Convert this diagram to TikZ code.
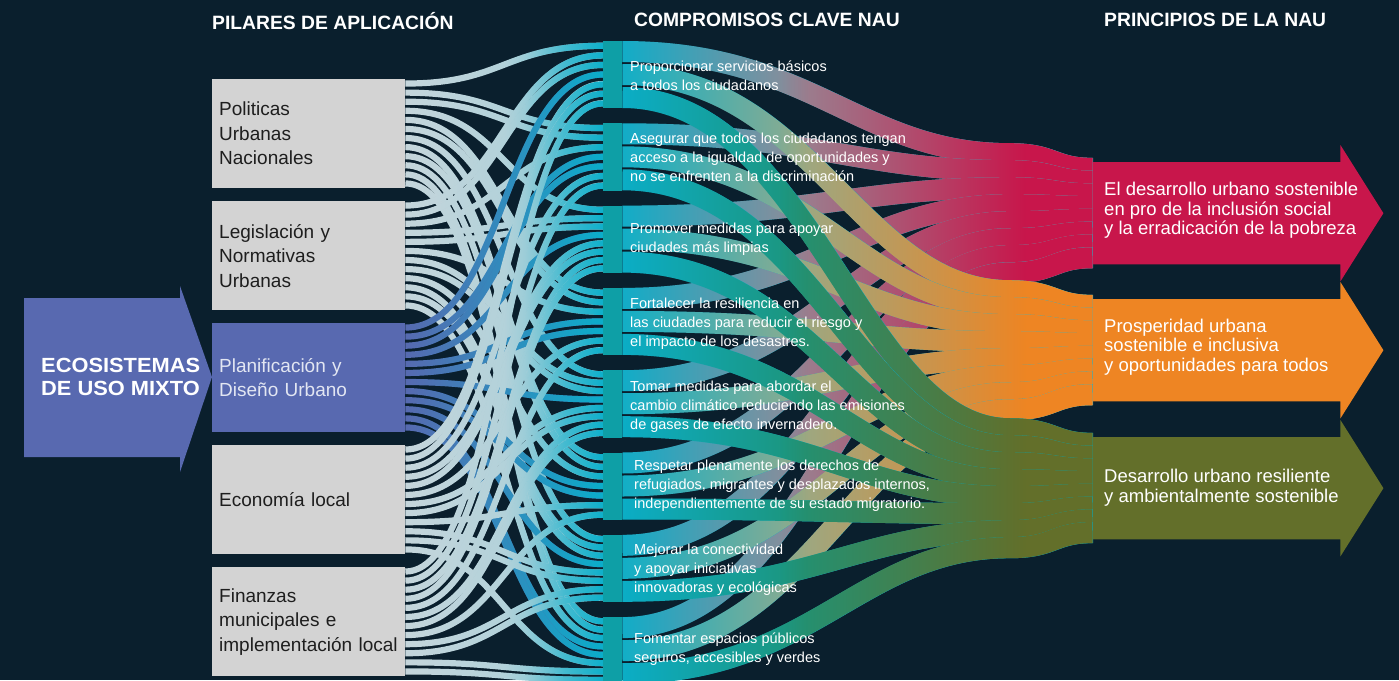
\documentclass[tikz,border=0pt]{standalone}
\usepackage{fontspec}
\setmainfont{Liberation Sans}
\usetikzlibrary{fadings,calc}
\definecolor{bg}{HTML}{0A1F2D}
\definecolor{pgray}{HTML}{D3D3D3}
\definecolor{pblue}{HTML}{5869B0}
\definecolor{tealbar}{HTML}{0E9FA6}
\definecolor{cyanf}{HTML}{0AAFCB}
\definecolor{lgray}{HTML}{C6D6DC}
\definecolor{pred}{HTML}{C8164B}
\definecolor{porange}{HTML}{EE8523}
\definecolor{pgreen}{HTML}{636F2A}
\definecolor{midred}{HTML}{968A96}
\definecolor{midorange}{HTML}{94AC8C}
\definecolor{midgreen}{HTML}{1E9478}
\definecolor{ptext}{HTML}{1E1E1E}
\definecolor{ltext}{HTML}{E2E6F2}
\pgfdeclarehorizontalshading{rampL}{100bp}{color(0bp)=(black); color(25bp)=(black); color(50bp)=(black!90); color(55bp)=(black!78); color(65bp)=(black!30); color(75bp)=(white); color(100bp)=(white)}
\pgfdeclarehorizontalshading{rampM}{100bp}{color(0bp)=(black); color(25bp)=(black); color(45bp)=(white); color(75bp)=(white); color(100bp)=(white)}
\pgfdeclarehorizontalshading{rampR}{100bp}{color(0bp)=(black); color(25bp)=(black); color(42bp)=(black); color(67bp)=(white); color(75bp)=(white); color(100bp)=(white)}
\tikzfading[name=fadeL, shading=rampL]
\tikzfading[name=fadeM, shading=rampM]
\tikzfading[name=fadeR, shading=rampR]
\tikzfading[name=fadeLin, left color=transparent!100, right color=transparent!0]
\begin{document}
\begin{tikzpicture}[x=1pt,y=-1pt,
  pbox/.style={fill=pgray, text=ptext, text width=179pt, inner xsep=7pt, inner ysep=0pt,
    minimum height=109pt, align=left, anchor=north west, font=\fontsize{19}{24.5}\selectfont},
  cbar/.style={fill=tealbar, minimum width=19pt, minimum height=67pt, inner sep=0pt, anchor=north west},
  rbody/.style={minimum width=247pt, minimum height=102pt, inner sep=0pt, anchor=north west},
  ctext/.style={text=white, font=\fontsize{14.5}{19}\selectfont, align=left, anchor=west, inner sep=0pt},
  rtext/.style={text=white, font=\fontsize{18.5}{19.7}\selectfont, align=left, anchor=west, inner sep=0pt},
  htext/.style={text=white, font=\bfseries\fontsize{19.3}{20}\selectfont, anchor=base west, inner sep=0pt},
  lflow/.style={line width=6.2pt},
  rflow/.style={line width=21pt}]
\fill[bg] (0,0) rectangle (1399,680);
\useasboundingbox (0,0) rectangle (1399,680);

% headers
\node[htext] (H1) at (212,29) {PILARES DE APLICACIÓN};
\node[htext] (H2) at (634,27) {COMPROMISOS CLAVE NAU};
\node[htext] (H3) at (1104,27) {PRINCIPIOS DE LA NAU};

% left arrow
\fill[pblue] (24,298) -- (180,298) -- (180,286) -- (212,377) -- (180,472) -- (180,457) -- (24,457) -- cycle;
\node[text=white, font=\bfseries\fontsize{20.5}{23.5}\selectfont, align=left, anchor=west, inner sep=0pt,
  xscale=1.065, transform shape] (E) at (41,377) {ECOSISTEMAS\\DE USO MIXTO};

% pillars
\node[pbox] (P1) at (212,79) {Politicas\\Urbanas\\Nacionales};
\node[pbox] (P2) at (212,201) {Legislación y\\Normativas\\Urbanas};
\node[pbox, fill=pblue, text=ltext] (P3) at (212,323) {Planificación y\\Diseño Urbano};
\node[pbox] (P4) at (212,445) {Economía local};
\node[pbox] (P5) at (212,567) {Finanzas\\municipales e\\implementación local};

% commitment bars
\foreach \j in {1,...,8} {
  \node[cbar] (C\j) at (603,{41+82.3*(\j-1)}) {};
}

% principle bodies
\node[rbody] (R1) at (1093,162) {};
\node[rbody] (R2) at (1093,299) {};
\node[rbody] (R3) at (1093,437) {};

% left flows
\foreach \i/\k/\j/\s/\n in {
 1/0/1/0/7, 1/1/2/0/7, 1/2/2/1/7, 1/3/3/0/8, 1/4/4/0/7, 1/5/4/1/7, 1/6/5/0/8, 1/7/6/0/7, 1/8/6/1/7, 1/9/7/0/8, 1/10/8/0/8, 1/11/8/1/8,
 2/0/1/1/7, 2/1/1/2/7, 2/2/2/2/7, 2/3/3/1/8, 2/4/3/2/8, 2/5/4/2/7, 2/6/5/1/8, 2/7/5/2/8, 2/8/6/2/7, 2/9/7/1/8, 2/10/7/2/8, 2/11/8/2/8,
 3/0/1/3/7, 3/1/2/3/7, 3/2/2/4/7, 3/3/3/3/8, 3/4/4/3/7, 3/5/4/4/7, 3/6/5/3/8, 3/7/6/3/7, 3/8/6/4/7, 3/9/7/3/8, 3/10/8/3/8, 3/11/8/4/8,
 4/0/1/4/7, 4/1/1/5/7, 4/2/2/5/7, 4/3/3/4/8, 4/4/3/5/8, 4/5/4/5/7, 4/6/5/4/8, 4/7/5/5/8, 4/8/6/5/7, 4/9/7/4/8, 4/10/7/5/8, 4/11/8/5/8,
 5/0/1/6/7, 5/1/2/6/7, 5/2/3/6/8, 5/3/3/7/8, 5/4/4/6/7, 5/5/5/6/8, 5/6/5/7/8, 5/7/6/6/7, 5/8/7/6/8, 5/9/7/7/8, 5/10/8/6/8, 5/11/8/7/8} {
  \path ([yshift={-(\k+0.5)*9.08pt}]P\i.north east) coordinate (a)
        ([yshift={-(\s+0.5)*67/\n*1pt}]C\j.north west) coordinate (b);
  \ifnum\i=3
    \draw[lflow, draw=pblue] (a) .. controls +(99,0) and +(-99,0) .. (b);
    \draw[lflow, draw=cyanf, path fading=fadeLin] (a) .. controls +(99,0) and +(-99,0) .. (b);
  \else
    \draw[lflow, draw=lgray] (a) .. controls +(99,0) and +(-99,0) .. (b);
    \draw[lflow, draw=cyanf, path fading=fadeL] (a) .. controls +(99,0) and +(-99,0) .. (b);
  \fi
}

% right flows
\foreach \r/\col/\mcol in {1/pred/midred, 2/porange/midorange, 3/pgreen/midgreen} {
  \foreach \j in {1,...,8} {
    \path ([yshift={-(10.5+23*(\r-1))*1pt}]C\j.north east) coordinate (s)
          ($(R\r.west)+(-83,{(\j-4.5)*17})$) coordinate (m)
          ([yshift={-(\j-0.5)*12.75pt}]R\r.north west) coordinate (e);
    \draw[rflow, draw=cyanf] (s) .. controls +(190,0) and +(-150,0) .. (m) .. controls +(45,0) and +(-40,0) .. (e);
    \draw[rflow, draw=\mcol, path fading=fadeM] (s) .. controls +(190,0) and +(-150,0) .. (m) .. controls +(45,0) and +(-40,0) .. (e);
    \draw[rflow, draw=\col, path fading=fadeR] (s) .. controls +(190,0) and +(-150,0) .. (m) .. controls +(45,0) and +(-40,0) .. (e);
  }
}

% bars on top
\foreach \j in {1,...,8} {
  \fill[tealbar] (C\j.north west) rectangle (C\j.south east);
}

% principle arrows
\foreach \r/\col in {1/pred, 2/porange, 3/pgreen} {
  \fill[\col] (R\r.north west) -- (R\r.north east) -- ++(0,-17) -- ($(R\r.east)+(43,0)$)
    -- ($(R\r.south east)+(0,17)$) -- (R\r.south east) -- (R\r.south west) -- cycle;
}

% commitment texts
\node[ctext] (C1t) at (630,75.5) {Proporcionar servicios básicos\\a todos los ciudadanos};
\node[ctext] (C2t) at (630,157) {Asegurar que todos los ciudadanos tengan\\acceso a la igualdad de oportunidades y\\no se enfrenten a la discriminación};
\node[ctext] (C3t) at (630,239.5) {Promover medidas para apoyar\\ciudades más limpias};
\node[ctext] (C4t) at (630,324) {Fortalecer la resiliencia en\\las ciudades para reducir el riesgo y\\el impacto de los desastres.};
\node[ctext] (C5t) at (630,406.5) {Tomar medidas para abordar el\\cambio climático reduciendo las emisiones\\de gases de efecto invernadero.};
\node[ctext] (C6t) at (634,486) {Respetar plenamente los derechos de\\refugiados, migrantes y desplazados internos,\\independientemente de su estado migratorio.};
\node[ctext] (C7t) at (634,570) {Mejorar la conectividad\\y apoyar iniciativas\\innovadoras y ecológicas};
\node[ctext] (C8t) at (634,649.5) {Fomentar espacios públicos\\seguros, accesibles y verdes};

% principle texts
\node[rtext] (R1t) at (1104,210.5) {El desarrollo urbano sostenible\\en pro de la inclusión social\\y la erradicación de la pobreza};
\node[rtext] (R2t) at (1104,347) {Prosperidad urbana\\sostenible e inclusiva\\y oportunidades para todos};
\node[rtext] (R3t) at (1104,488) {Desarrollo urbano resiliente\\y ambientalmente sostenible};
\end{tikzpicture}
\end{document}
